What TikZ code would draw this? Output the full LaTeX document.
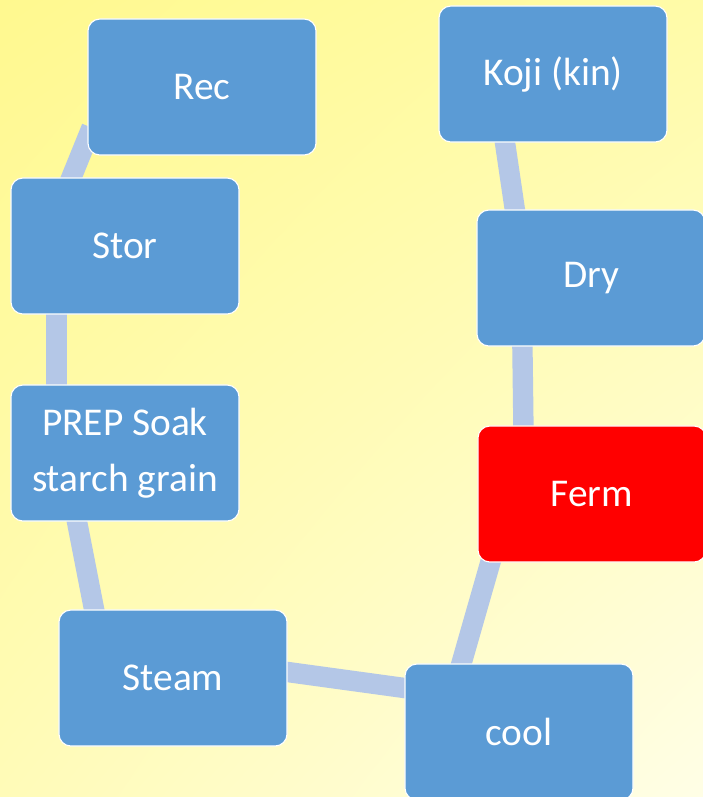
\documentclass[tikz,border=0pt]{standalone}
\usepackage{fontspec}
\setmainfont{Carlito}
\usepackage{xcolor}
\definecolor{StepBlue}{HTML}{5B9BD5}
\definecolor{StepRed}{HTML}{FF0000}
\definecolor{LinkBlue}{HTML}{B4C7E7}
\definecolor{BgTopLeft}{HTML}{FFF98F}
\definecolor{BgTopRight}{HTML}{FFFBA8}
\definecolor{BgBottomLeft}{HTML}{FFFBB8}
\definecolor{BgBottomRight}{HTML}{FFFEE6}
\usepackage{tikz}
\usetikzlibrary{backgrounds, shadings}

\begin{document}
\begin{tikzpicture}[x=0.025cm, y=-0.025cm,
  stepbox/.style={draw=white, line width=0.8pt, fill=StepBlue, rounded corners=0.3cm,
    minimum width=5.7cm, minimum height=3.4cm, text=white, align=center,
    font=\fontsize{28}{40}\selectfont},
  link/.style={LinkBlue, line width=14.5pt, shorten <=-8pt, shorten >=-8pt}]
  % Frame
  \path[use as bounding box, clip] (0,0) rectangle (703,797);

  % Steps of the cycle
  \node[stepbox] (rec)   at (202,87)  {Rec};
  \node[stepbox] (koji)  at (553,74)  {Koji (kin)};
  \node[stepbox] (stor)  at (125,246) {Stor};
  \node[stepbox] (dry)   at (591,278) {Dry};
  \node[stepbox] (prep)  at (125,453) {PREP Soak\\starch grain};
  \node[stepbox, fill=StepRed] (ferm) at (592,494) {Ferm};
  \node[stepbox] (steam) at (173,678) {Steam};
  \node[stepbox] (cool)  at (519,732) {cool};

  \begin{pgfonlayer}{background}
    % Background
    \shade[upper left=BgTopLeft, upper right=BgTopRight,
      lower left=BgBottomLeft, lower right=BgBottomRight] (0,0) rectangle (703,797);
    % Links
    \draw[link] (rec.204)   -- (stor.128);
    \draw[link] (stor.225)  -- (prep.135);
    \draw[link] (prep.235)  -- (steam.139);
    \draw[link] (steam.3)   -- (cool.159);
    \draw[link] (cool.130)  -- (ferm.214);
    \draw[link] (ferm.135)  -- (dry.225);
    \draw[link] (dry.138)   -- (koji.235);
  \end{pgfonlayer}
\end{tikzpicture}
\end{document}
